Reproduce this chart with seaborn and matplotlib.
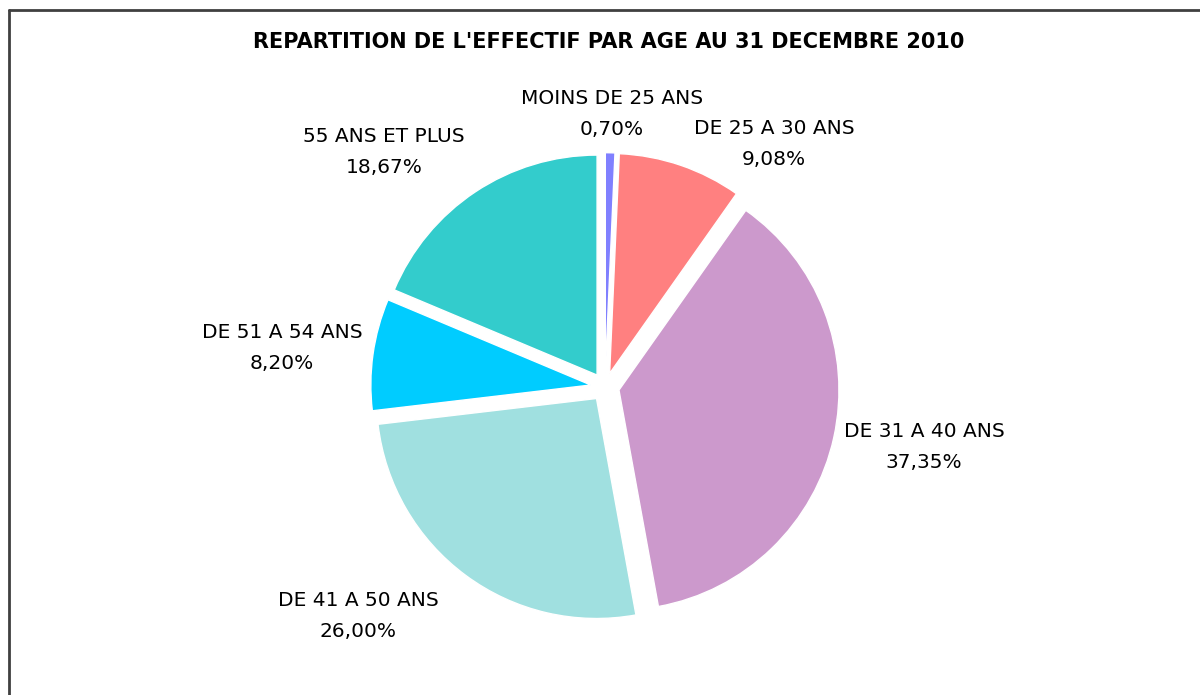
import matplotlib
matplotlib.use("Agg")
import matplotlib.pyplot as plt
import seaborn as sns
from matplotlib.lines import Line2D

# ---- data ----
categories = ["MOINS DE 25 ANS", "DE 25 A 30 ANS", "DE 31 A 40 ANS",
              "DE 41 A 50 ANS", "DE 51 A 54 ANS", "55 ANS ET PLUS"]
values = [0.70, 9.08, 37.35, 26.00, 8.20, 18.67]
pct_labels = ["0,70%", "9,08%", "37,35%", "26,00%", "8,20%", "18,67%"]
title = "REPARTITION DE L'EFFECTIF PAR AGE AU 31 DECEMBRE 2010"

# ---- style ----
colors = ["#8080FF", "#FF8080", "#CC99CC", "#A0E0E0", "#00CCFF", "#33CCCC"]
label_px = [(612, 114), (774, 144), (924, 447), (358, 616), (282, 348), (384, 152)]

sns.set_theme(style="white")
plt.rcParams['font.family'] = ['DejaVu Sans']

W, H = 1200, 695
fig = plt.figure(figsize=(W / 100, H / 100), dpi=100)
fig.patch.set_facecolor("white")
ax = fig.add_axes([0, 0, 1, 1])
cx, cy, R = 605, 387, 220

wedges, _ = ax.pie(values, colors=colors, startangle=90, counterclock=False,
                   explode=[0.065] * len(values),
                   wedgeprops=dict(edgecolor="white", linewidth=1))
ax.set_xlim(-cx / R, (W - cx) / R)
ax.set_ylim((cy - H) / R, cy / R)
ax.set_aspect("auto")
ax.axis("off")

for cat, pct, (px, py) in zip(categories, pct_labels, label_px):
    ax.text((px - cx) / R, (cy - py) / R, f"{cat}\n{pct}", ha="center", va="center",
            multialignment="center", fontsize=14.5, color="black", linespacing=1.75)

fig.text(609 / W, 1 - 42 / H, title, ha="center", va="center", fontsize=15,
         fontweight="bold", color="black")

# partial chart frame (top and left edges visible)
fig.add_artist(Line2D([9 / W, 1], [1 - 9.5 / H] * 2, transform=fig.transFigure,
                      color="#404040", lw=2))
fig.add_artist(Line2D([9 / W] * 2, [0, 1 - 9.5 / H], transform=fig.transFigure,
                      color="#404040", lw=2))

fig.savefig("out.png", dpi=100, facecolor="white")
